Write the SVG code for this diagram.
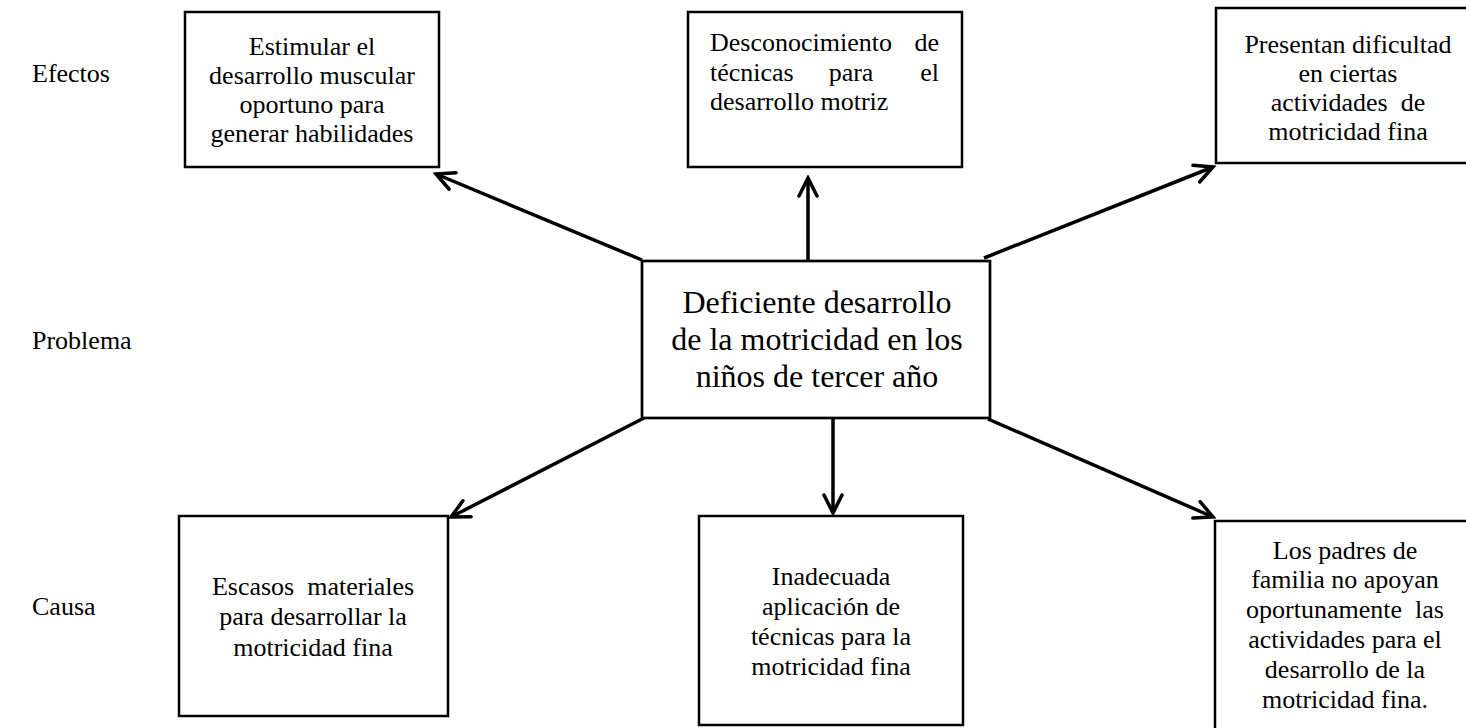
<svg xmlns="http://www.w3.org/2000/svg" width="1466" height="728" viewBox="0 0 1466 728">
<style>
text{font-family:"Liberation Serif","Times New Roman",serif;fill:#000}
.t{font-size:26px;text-anchor:middle}
.j{font-size:26px}
.lbl{font-size:26px}
.big{font-size:32px;text-anchor:middle}
.box{fill:#fff;stroke:#000;stroke-width:2.5}
.cbox{fill:#fff;stroke:#000;stroke-width:2.7}
.arr{stroke:#000;stroke-width:3.5;fill:none;marker-end:url(#ah)}
</style>
<defs>
<marker id="ah" viewBox="0 0 24 22" refX="21" refY="11" markerWidth="24" markerHeight="22" markerUnits="userSpaceOnUse" orient="auto">
<path d="M3,2 L21,11 L3,20" fill="none" stroke="#000" stroke-width="3.5" stroke-linecap="round" stroke-linejoin="miter"/>
</marker>
</defs>
<rect width="1466" height="728" fill="#fff"/>
<g id="labels">
<text class="lbl" x="32" y="82">Efectos</text>
<text class="lbl" x="32" y="349">Problema</text>
<text class="lbl" x="32" y="615">Causa</text>
</g>
<g id="connectors">
<line class="arr" x1="642" y1="260" x2="436" y2="174"/>
<line class="arr" x1="808" y1="266" x2="808" y2="178"/>
<line class="arr" x1="984" y1="258" x2="1213" y2="167"/>
<line class="arr" x1="644" y1="418" x2="451" y2="517"/>
<line class="arr" x1="833" y1="417" x2="833" y2="513"/>
<line class="arr" x1="988" y1="419" x2="1213" y2="517"/>
</g>
<g id="effect1">
<rect class="box" x="185" y="12" width="254" height="155"/>
<text class="t" x="312" y="55">Estimular el</text>
<text class="t" x="312" y="84">desarrollo muscular</text>
<text class="t" x="312" y="113">oportuno para</text>
<text class="t" x="312" y="142">generar habilidades</text>
</g>
<g id="effect2">
<rect class="box" x="688" y="12" width="274" height="155"/>
<text class="j" x="710" y="51">Desconocimiento</text>
<text class="j" x="939" y="51" text-anchor="end">de</text>
<text class="j" x="710" y="81">técnicas</text>
<text class="j" x="851" y="81" text-anchor="middle">para</text>
<text class="j" x="939" y="81" text-anchor="end">el</text>
<text class="j" x="710" y="110">desarrollo motriz</text>
</g>
<g id="effect3">
<rect class="box" x="1216" y="8" width="260" height="155"/>
<text class="t" x="1348" y="53">Presentan dificultad</text>
<text class="t" x="1348" y="82">en ciertas</text>
<text class="t" x="1348" y="111" xml:space="preserve">actividades  de</text>
<text class="t" x="1348" y="140">motricidad fina</text>
</g>
<g id="problem">
<rect class="cbox" x="642" y="261" width="348" height="157"/>
<text class="big" x="817" y="313">Deficiente desarrollo</text>
<text class="big" x="817" y="350">de la motricidad en los</text>
<text class="big" x="817" y="387">niños de tercer año</text>
</g>
<g id="cause1">
<rect class="box" x="179" y="516" width="269" height="200"/>
<text class="t" x="313" y="595" xml:space="preserve">Escasos  materiales</text>
<text class="t" x="313" y="625">para desarrollar la</text>
<text class="t" x="313" y="656">motricidad fina</text>
</g>
<g id="cause2">
<rect class="box" x="699" y="516" width="264" height="209"/>
<text class="t" x="831" y="585">Inadecuada</text>
<text class="t" x="831" y="615">aplicación de</text>
<text class="t" x="831" y="645">técnicas para la</text>
<text class="t" x="831" y="675">motricidad fina</text>
</g>
<g id="cause3">
<rect class="box" x="1215" y="521" width="260" height="215"/>
<text class="t" x="1345" y="559">Los padres de</text>
<text class="t" x="1345" y="588">familia no apoyan</text>
<text class="t" x="1345" y="618" xml:space="preserve">oportunamente  las</text>
<text class="t" x="1345" y="648">actividades para el</text>
<text class="t" x="1345" y="678">desarrollo de la</text>
<text class="t" x="1345" y="708">motricidad fina.</text>
</g>
</svg>
